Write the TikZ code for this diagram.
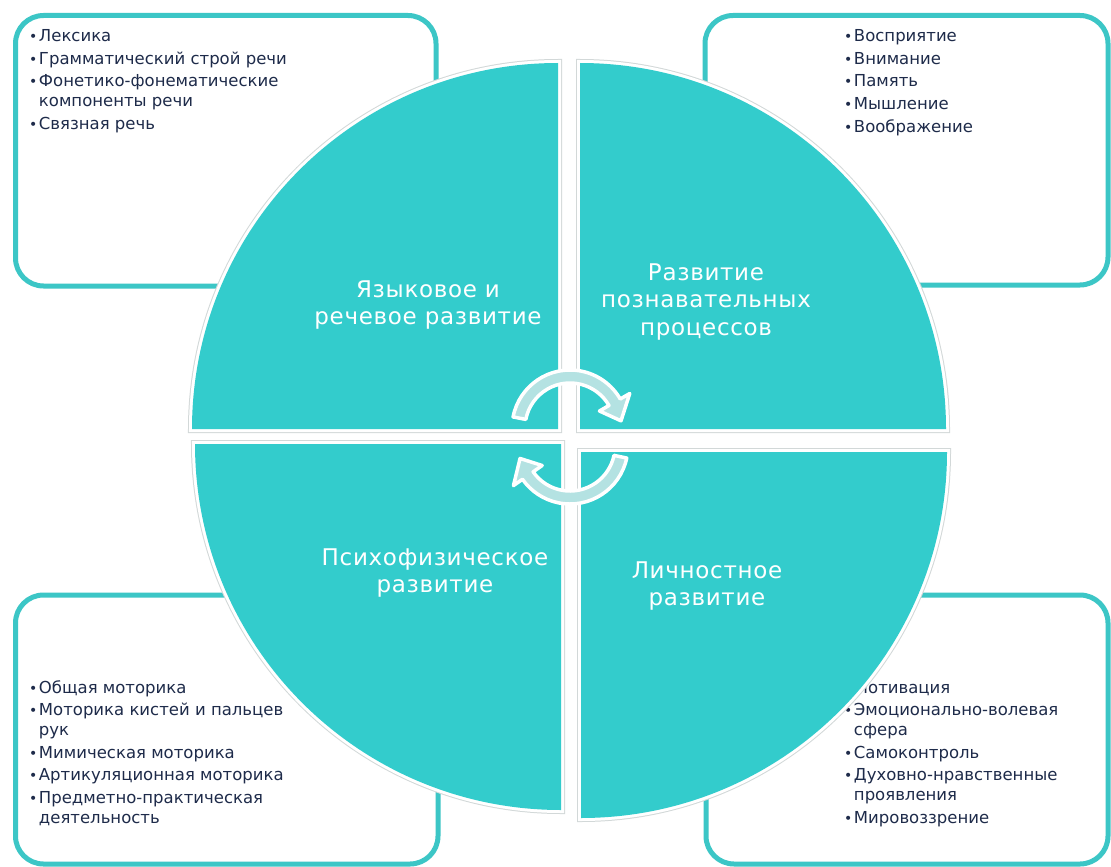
\documentclass[tikz,border=0pt]{standalone}
\usepackage{fontspec}
\setmainfont{DejaVu Sans}
\newfontfamily\titlefont[LetterSpace=3]{DejaVu Sans}
\usetikzlibrary{calc}
\definecolor{tealq}{HTML}{33CCCC}
\definecolor{boxline}{HTML}{3CC6C6}
\definecolor{arrowfill}{HTML}{B4E2E2}
\definecolor{navy}{HTML}{1E2B4A}
\definecolor{edgegrey}{HTML}{D2D8D8}
\newcommand\lbul{{\fontsize{14}{14}\selectfont •}}
\begin{document}
\begin{tikzpicture}[x=1pt,y=-1pt,
  infobox/.style={draw=boxline, line width=5pt, fill=white, rounded corners=28pt, inner sep=0pt},
  quadrim/.style={draw=edgegrey, line width=8pt},
  quadwhite/.style={draw=white, line width=6pt},
  quadfill/.style={fill=tealq},
  title/.style={text=white, font=\titlefont\fontsize{23}{27.5}\selectfont, align=center, inner sep=0pt},
  listtext/.style={text=navy, font=\fontsize{16.5}{20}\selectfont, inner sep=0pt, anchor=base west},
  cyc/.style={fill=arrowfill, draw=white, line width=3.5pt, line join=round}]
\useasboundingbox (0,0) rectangle (1111,867);
\fill[white] (0,0) rectangle (1111,867);

% boxes
\node[infobox, minimum width=420.5pt, minimum height=270.5pt] (boxTL) at (225.75,150.75) {};
\node[infobox, minimum width=403pt, minimum height=269.5pt] (boxTR) at (906.5,150.25) {};
\node[infobox, minimum width=422.5pt, minimum height=269pt] (boxBL) at (226.75,729.5) {};
\node[infobox, minimum width=402pt, minimum height=269pt] (boxBR) at (907,729.5) {};

% lists
\node[listtext] (listTL) at (29,42) {\begin{tabular}[t]{@{}l@{\hspace{1.5pt}}l@{}}
\lbul & Лексика\\[2.5pt]
\lbul & Грамматический строй речи\\[2.5pt]
\lbul & Фонетико-фонематические\\
 & компоненты речи\\[2.5pt]
\lbul & Связная речь
\end{tabular}};
\node[listtext] (listTR) at (844,42) {\begin{tabular}[t]{@{}l@{\hspace{1.5pt}}l@{}}
\lbul & Восприятие\\[2.5pt]
\lbul & Внимание\\[2.5pt]
\lbul & Память\\[2.5pt]
\lbul & Мышление\\[2.5pt]
\lbul & Воображение
\end{tabular}};
\node[listtext] (listBL) at (29,693) {\begin{tabular}[t]{@{}l@{\hspace{1.5pt}}l@{}}
\lbul & Общая моторика\\[2.5pt]
\lbul & Моторика кистей и пальцев\\
 & рук\\[2.5pt]
\lbul & Мимическая моторика\\[2.5pt]
\lbul & Артикуляционная моторика\\[2.5pt]
\lbul & Предметно-практическая\\
 & деятельность
\end{tabular}};
\node[listtext] (listBR) at (844,693) {\begin{tabular}[t]{@{}l@{\hspace{1.5pt}}l@{}}
\lbul & Мотивация\\[2.5pt]
\lbul & Эмоционально-волевая\\
 & сфера\\[2.5pt]
\lbul & Самоконтроль\\[2.5pt]
\lbul & Духовно-нравственные\\
 & проявления\\[2.5pt]
\lbul & Мировоззрение
\end{tabular}};

% quadrants
\foreach \st in {quadrim,quadwhite,quadfill}{
  \path[\st] (558,429) -- ++(-366,0) arc[start angle=180, end angle=270, radius=366] -- cycle;
  \path[\st] (580,429) -- ++(0,-366) arc[start angle=270, end angle=360, radius=366] -- cycle;
  \path[\st] (581,452) -- ++(366,0) arc[start angle=0, end angle=90, radius=366] -- cycle;
  \path[\st] (561,444) -- ++(0,366) arc[start angle=90, end angle=180, radius=366] -- cycle;
}

% cycle arrows
\coordinate (c1) at (570,428);
\coordinate (c2) at (570,446);
\draw[cyc] ($(c1)+(-169:58)$) arc[start angle=-169, end angle=-30, radius=58]
  -- ($(c1)+(-30:69)$) -- ($(c1)+(-8:51.5)$) -- ($(c1)+(-30:34)$) -- ($(c1)+(-30:45)$)
  arc[start angle=-30, end angle=-169, radius=45] -- cycle;
\draw[cyc] ($(c2)+(12:58)$) arc[start angle=12, end angle=145, radius=58]
  -- ($(c2)+(145:69)$) -- ($(c2)+(166:51.5)$) -- ($(c2)+(145:34)$) -- ($(c2)+(145:45)$)
  arc[start angle=145, end angle=12, radius=45] -- cycle;

% titles
\node[title] (tTL) at (428,305) {Языковое и\\речевое развитие};
\node[title] (tTR) at (706,302) {Развитие\\познавательных\\процессов};
\node[title] (tBL) at (435,573) {Психофизическое\\развитие};
\node[title] (tBR) at (707,586) {Личностное\\развитие};
\end{tikzpicture}
\end{document}
